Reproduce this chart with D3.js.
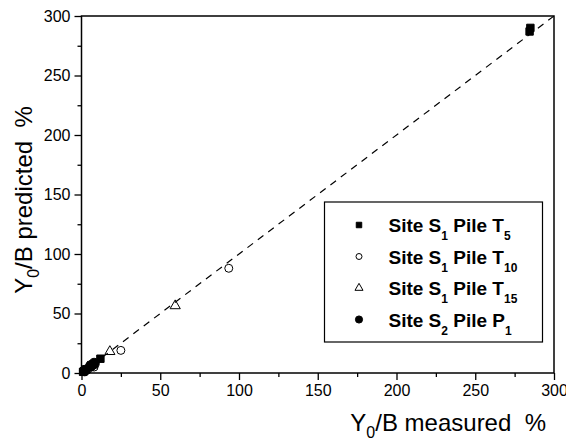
<!DOCTYPE html>
<html>
<head>
<meta charset="utf-8">
<script src="https://cdn.jsdelivr.net/npm/d3@7"></script>
<style>
  body { margin: 0; background: #fff; }
  svg { display: block; }
  text { font-family: "Liberation Sans", Arial, sans-serif; white-space: pre; }
</style>
</head>
<body>
<div id="chart"></div>
<script>
// measured vs predicted Y0/B (%)
var seriesT5  = [[1, 1], [3, 3], [12, 12], [284.5, 287], [285, 290]];
var seriesT10 = [[4, 3], [8, 5], [25, 19], [93.5, 88]];
var seriesT15 = [[4, 5], [18, 18], [59.5, 56.5]];
var seriesP1  = [[2, 2], [6, 6], [8, 8]];
var legendLabels = [
  ["Site S", "1", " Pile T", "5"],
  ["Site S", "1", " Pile T", "10"],
  ["Site S", "1", " Pile T", "15"],
  ["Site S", "2", " Pile P", "1"]
];
var majorTicks = [0, 50, 100, 150, 200, 250, 300];
var minorTicks = [25, 75, 125, 175, 225, 275];

var width = 566, height = 444;
var margin = {top: 16, right: 12, bottom: 71, left: 81.5};
var innerWidth = width - margin.left - margin.right,
    innerHeight = height - margin.top - margin.bottom;

var svg = d3.select("#chart").append("svg")
  .attr("width", width).attr("height", height);
var g = svg.append("g")
  .attr("transform", "translate(" + margin.left + "," + margin.top + ")");

var x = d3.scaleLinear().domain([0, 300]).range([0, innerWidth]);
var y = d3.scaleLinear().domain([0, 300]).range([innerHeight, 0]);

// frame
g.append("rect")
  .attr("width", innerWidth).attr("height", innerHeight)
  .attr("fill", "none").attr("stroke", "#000").attr("stroke-width", 1.5);

// axes with major + minor ticks
g.append("g").attr("transform", "translate(0," + innerHeight + ")")
  .call(d3.axisBottom(x).tickValues(majorTicks).tickSize(7).tickPadding(5));
g.append("g").attr("class", "minor").attr("transform", "translate(0," + innerHeight + ")")
  .call(d3.axisBottom(x).tickValues(minorTicks).tickSize(4));
g.append("g")
  .call(d3.axisLeft(y).tickValues(majorTicks).tickSize(7).tickPadding(4));
g.append("g").attr("class", "minor")
  .call(d3.axisLeft(y).tickValues(minorTicks).tickSize(4));

g.selectAll(".minor .tick text").remove();
g.selectAll(".domain").remove();
g.selectAll(".tick line").attr("stroke", "#000").attr("stroke-width", 1.3);
g.selectAll(".tick text").style("font-size", "16px").attr("fill", "#000");

// 1:1 dashed line
g.append("line")
  .attr("x1", x(0)).attr("y1", y(0))
  .attr("x2", x(300)).attr("y2", y(300))
  .attr("stroke", "#000").attr("stroke-width", 1.2)
  .attr("stroke-dasharray", "7,6");

// markers
var sym = {
  square: d3.symbol().type(d3.symbolSquare),
  circle: d3.symbol().type(d3.symbolCircle),
  triangle: d3.symbol().type(d3.symbolTriangle)
};
function plot(data, type, size, fill) {
  g.append("g").selectAll("path").data(data).enter().append("path")
    .attr("d", sym[type].size(size)())
    .attr("transform", function(d) { return "translate(" + x(d[0]) + "," + y(d[1]) + ")"; })
    .attr("fill", fill).attr("stroke", "#000").attr("stroke-width", 1);
}
plot(seriesT10, "circle", 50, "none");
plot(seriesT15, "triangle", 45, "none");
plot(seriesP1, "circle", 85, "#000");
plot(seriesT5, "square", 55, "#000");

// legend
var legend = svg.append("g").attr("transform", "translate(324.5,202)");
legend.append("rect")
  .attr("width", 218).attr("height", 140)
  .attr("fill", "#fff").attr("stroke", "#000").attr("stroke-width", 1.2);

var legendMarks = [["square", 30, "#000"], ["circle", 28, "#fff"], ["triangle", 28, "#fff"], ["circle", 40, "#000"]];
legendLabels.forEach(function(lab, i) {
  var cy = 23 + i * 31.5;
  legend.append("path")
    .attr("d", sym[legendMarks[i][0]].size(legendMarks[i][1])())
    .attr("transform", "translate(34.5," + cy + ")")
    .attr("fill", legendMarks[i][2]).attr("stroke", "#000").attr("stroke-width", 1);
  var t = legend.append("text")
    .attr("x", 64).attr("y", cy + 7)
    .style("font-size", "19px").style("font-weight", "bold");
  t.append("tspan").text(lab[0]);
  t.append("tspan").attr("dy", 8).style("font-size", "12px").text(lab[1]);
  t.append("tspan").attr("dy", -8).text(lab[2]);
  t.append("tspan").attr("dy", 8).style("font-size", "12px").text(lab[3]);
});

// axis titles
var xt = svg.append("text")
  .attr("x", 546).attr("y", 431).attr("text-anchor", "end")
  .style("font-size", "24px");
xt.append("tspan").text("Y");
xt.append("tspan").attr("dy", 7).style("font-size", "16px").text("0");
xt.append("tspan").attr("dy", -7).text("/B measured  %");

var yt = svg.append("text")
  .attr("transform", "translate(32,200) rotate(-90)")
  .attr("text-anchor", "middle")
  .style("font-size", "24px");
yt.append("tspan").text("Y");
yt.append("tspan").attr("dy", 7).style("font-size", "16px").text("0");
yt.append("tspan").attr("dy", -7).text("/B predicted  %");
</script>
</body>
</html>
